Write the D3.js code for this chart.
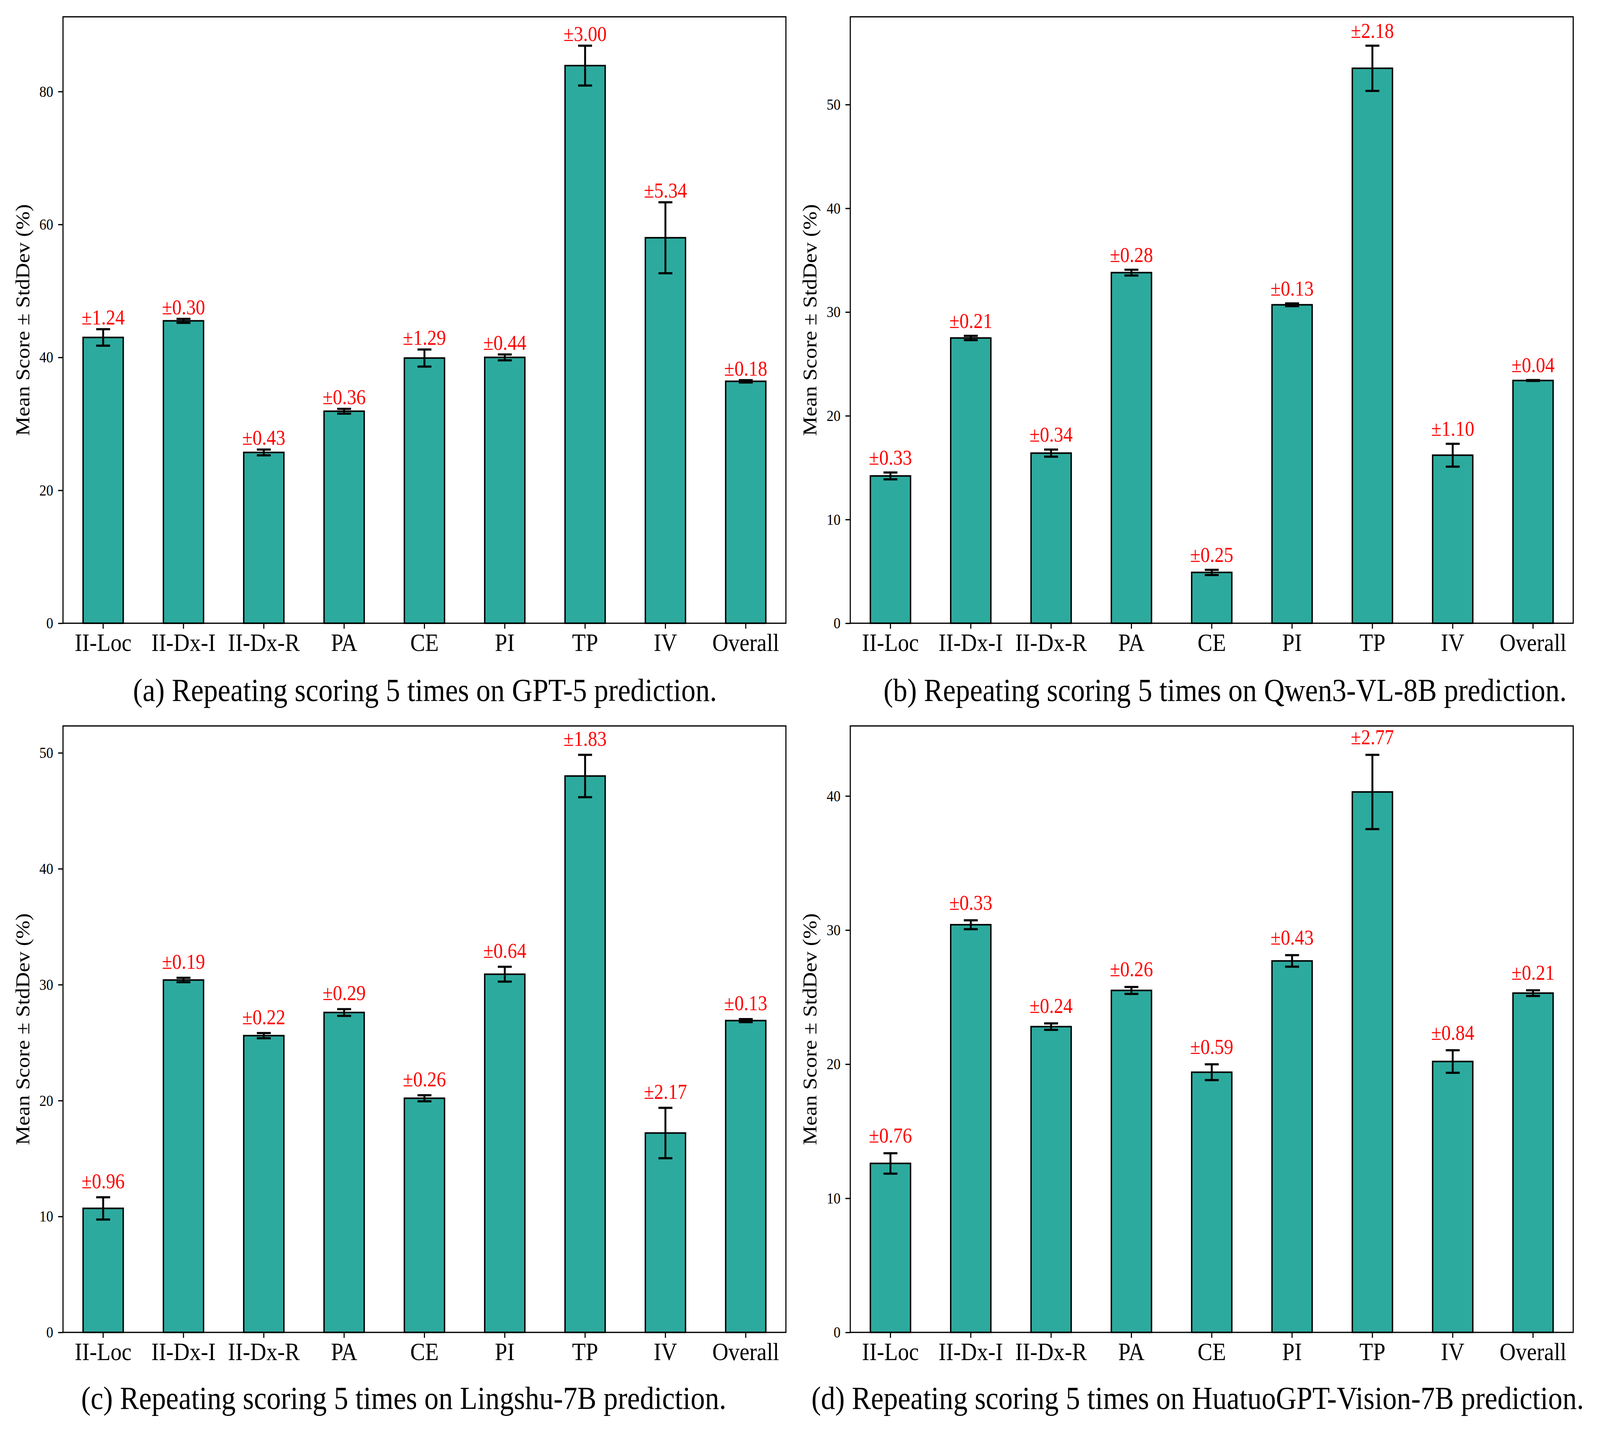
<!DOCTYPE html>
<html>
<head>
<meta charset="utf-8">
<script src="https://cdn.jsdelivr.net/npm/d3@7"></script>
<style>
  html, body { margin: 0; padding: 0; background: #fff; overflow: hidden; }
  svg { display: block; width: 100vw; height: 100vh; font-family: "Liberation Serif", "Times New Roman", serif; }
</style>
</head>
<body>
<svg id="chart"></svg>
<script>
const categories = ["II-Loc", "II-Dx-I", "II-Dx-R", "PA", "CE", "PI", "TP", "IV", "Overall"];

const gpt5Means = [43.0, 45.5, 25.7, 31.9, 39.9, 40.0, 83.9, 58.0, 36.4];
const gpt5Stds = [1.24, 0.30, 0.43, 0.36, 1.29, 0.44, 3.00, 5.34, 0.18];
const qwenMeans = [14.2, 27.5, 16.4, 33.8, 4.9, 30.7, 53.5, 16.2, 23.4];
const qwenStds = [0.33, 0.21, 0.34, 0.28, 0.25, 0.13, 2.18, 1.10, 0.04];
const lingshuMeans = [10.7, 30.4, 25.6, 27.6, 20.2, 30.9, 48.0, 17.2, 26.9];
const lingshuStds = [0.96, 0.19, 0.22, 0.29, 0.26, 0.64, 1.83, 2.17, 0.13];
const huatuoMeans = [12.6, 30.4, 22.8, 25.5, 19.4, 27.7, 40.3, 20.2, 25.3];
const huatuoStds = [0.76, 0.33, 0.24, 0.26, 0.59, 0.43, 2.77, 0.84, 0.21];

const gpt5Ticks = [0, 20, 40, 60, 80];
const qwenTicks = [0, 10, 20, 30, 40, 50];
const lingshuTicks = [0, 10, 20, 30, 40, 50];
const huatuoTicks = [0, 10, 20, 30, 40];

const captions = [
  "(a) Repeating scoring 5 times on GPT-5 prediction.",
  "(b) Repeating scoring 5 times on Qwen3-VL-8B prediction.",
  "(c) Repeating scoring 5 times on Lingshu-7B prediction.",
  "(d) Repeating scoring 5 times on HuatuoGPT-Vision-7B prediction."
];
const yLabel = "Mean Score \u00b1 StdDev (%)";

// drawing is laid out on the reference's 4597x3662 grid and stretched to the window
const W = 4597, H = 3662;
const serif = '"Liberation Serif", "Times New Roman", serif';
const barColor = "#2daa9e";
const panelW = 2077, panelH = 1553;

const panels = [
  {means: gpt5Means, stds: gpt5Stds, ticks: gpt5Ticks, left: 181, top: 43, capX: 1221, capY: 1795},
  {means: qwenMeans, stds: qwenStds, ticks: qwenTicks, left: 2443, top: 43, capX: 3520, capY: 1795},
  {means: lingshuMeans, stds: lingshuStds, ticks: lingshuTicks, left: 181, top: 1859, capX: 1160, capY: 3608},
  {means: huatuoMeans, stds: huatuoStds, ticks: huatuoTicks, left: 2443, top: 1859, capX: 3441, capY: 3608}
];

const svg = d3.select("#chart")
  .attr("viewBox", `0 0 ${W} ${H}`)
  .attr("preserveAspectRatio", "none");

svg.append("rect").attr("width", W).attr("height", H).attr("fill", "#fff");

panels.forEach(function(p, idx) {
  const data = categories.map((c, i) => ({cat: c, mean: p.means[i], std: p.stds[i]}));
  // matplotlib-style autoscale: 5% headroom above the tallest error bar
  const ymax = d3.max(data, d => d.mean + d.std) * 1.05;

  const x = d3.scaleBand()
    .domain(categories)
    .range([0, panelW])
    .paddingInner(0.5)
    .paddingOuter(0.25);
  const y = d3.scaleLinear()
    .domain([0, ymax])
    .range([panelH, 0]);
  const ppu = panelH / ymax;

  const g = svg.append("g")
    .attr("transform", `translate(${p.left},${p.top})`);

  g.selectAll(".bar")
    .data(data)
    .enter().append("rect")
      .attr("class", "bar")
      .attr("x", d => x(d.cat))
      .attr("width", x.bandwidth())
      .attr("y", d => y(d.mean))
      .attr("height", d => panelH - y(d.mean))
      .attr("fill", barColor)
      .attr("stroke", "#000")
      .attr("stroke-width", 4);

  // error bars
  const cap = 20;
  const cx = d => x(d.cat) + x.bandwidth() / 2;
  const eb = g.selectAll(".err")
    .data(data)
    .enter().append("g")
      .attr("class", "err")
      .attr("stroke", "#000")
      .attr("stroke-width", 5.5);
  eb.append("line")
    .attr("x1", cx).attr("x2", cx)
    .attr("y1", d => y(d.mean - d.std))
    .attr("y2", d => y(d.mean + d.std));
  eb.append("line")
    .attr("x1", d => cx(d) - cap).attr("x2", d => cx(d) + cap)
    .attr("y1", d => y(d.mean + d.std))
    .attr("y2", d => y(d.mean + d.std));
  eb.append("line")
    .attr("x1", d => cx(d) - cap).attr("x2", d => cx(d) + cap)
    .attr("y1", d => y(d.mean - d.std))
    .attr("y2", d => y(d.mean - d.std));

  // red std labels
  g.selectAll(".lbl")
    .data(data)
    .enter().append("text")
      .attr("class", "lbl")
      .attr("x", cx)
      .attr("y", d => y(d.mean + d.std) - (0.87 * ppu - 3))
      .attr("text-anchor", "middle")
      .attr("fill", "#ff0000")
      .style("font-size", "54px")
      .text(d => "\u00b1" + d.std.toFixed(2));

  // axes
  const xAxis = g.append("g")
    .attr("transform", `translate(0,${panelH})`)
    .call(d3.axisBottom(x).tickSize(14).tickPadding(12));
  xAxis.attr("font-family", serif);
  xAxis.selectAll("text")
    .style("font-size", "64px")
    .attr("fill", "#000")
    .attr("dy", "0.71em");
  const yAxis = g.append("g")
    .call(d3.axisLeft(y).tickValues(p.ticks).tickSize(14).tickPadding(14).tickFormat(d3.format("d")));
  yAxis.attr("font-family", serif);
  yAxis.selectAll("text")
    .style("font-size", "40px")
    .attr("fill", "#000");
  g.selectAll(".domain").remove();
  g.selectAll(".tick line").attr("stroke", "#000").attr("stroke-width", 3.2);

  // frame
  g.append("rect")
    .attr("width", panelW)
    .attr("height", panelH)
    .attr("fill", "none")
    .attr("stroke", "#000")
    .attr("stroke-width", 3.2);

  g.append("text")
    .attr("transform", `translate(-97,${panelH / 2}) rotate(-90)`)
    .attr("text-anchor", "middle")
    .style("font-size", "56px")
    .text(yLabel);

  svg.append("text")
    .attr("x", p.capX)
    .attr("y", p.capY)
    .attr("text-anchor", "middle")
    .style("font-size", "82px")
    .text(captions[idx]);
});
</script>
</body>
</html>
